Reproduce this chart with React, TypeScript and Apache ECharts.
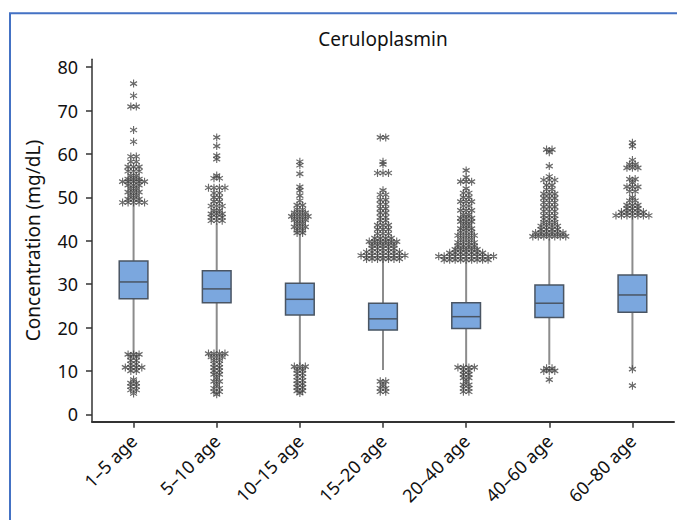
import React, { useEffect, useRef } from "react";
import * as echarts from "echarts";

const categories = ["1–5 age", "5–10 age", "10–15 age", "15–20 age", "20–40 age", "40–60 age", "60–80 age"];
const yTicks = [0, 10, 20, 30, 40, 50, 60, 70, 80];

// [lower whisker, Q1, median, Q3, upper whisker]
const boxStats: number[][] = [
  [14.0, 26.6, 30.5, 35.3, 48.5],
  [14.4, 25.7, 28.9, 33.1, 44.0],
  [11.4, 22.9, 26.5, 30.2, 41.5],
  [10.2, 19.4, 22.0, 25.6, 35.5],
  [11.0, 19.8, 22.5, 25.7, 35.2],
  [11.4, 22.3, 25.6, 29.8, 40.5],
  [10.6, 23.5, 27.5, 32.1, 45.5],
];

// outliers per group: [value, count of cases at that value]
const outliers1_5 = [[76.2,1],[73.4,1],[70.9,2],[65.5,1],[62.8,1],[59.4,2],[58.2,2],[57.0,3],[56.0,3],[55.0,2],[54.2,3],[53.6,5],[52.8,3],[52.0,2],[51.2,3],[50.4,2],[49.6,3],[48.8,5],
  [13.8,3],[13.2,2],[12.4,2],[11.6,2],[10.8,4],[10.0,2],[8.0,1],[7.2,2],[6.4,2],[5.6,2],[4.8,1]];
const outliers5_10 = [[63.8,1],[61.8,1],[59.6,1],[58.8,1],[55.0,1],[54.4,2],[52.2,4],[51.0,2],[50.0,2],[49.0,2],[48.0,3],[47.0,2],[46.2,3],[45.4,3],[44.6,3],
  [14.0,4],[13.2,3],[12.4,2],[11.6,2],[10.8,2],[10.0,2],[9.2,2],[8.4,1],[7.6,2],[6.8,1],[6.0,2],[5.2,2],[4.6,1]];
const outliers10_15 = [[58.2,1],[57.4,1],[55.4,1],[52.4,1],[51.6,1],[50.4,1],[49.2,1],[48.2,2],[47.2,2],[46.4,3],[45.6,4],[44.8,3],[44.0,2],[43.2,3],[42.4,2],[41.8,2],
  [11.0,3],[10.2,2],[9.4,2],[8.6,2],[7.8,2],[7.0,2],[6.2,2],[5.4,2],[4.9,1]];
const outliers15_20 = [[63.8,2],[58.2,1],[57.6,1],[55.6,3],[51.6,1],[50.6,2],[49.4,2],[48.4,2],[47.4,2],[46.4,2],[45.4,2],[44.6,2],[43.6,3],[42.6,3],[41.6,3],[40.6,4],[39.8,6],[39.0,5],[38.2,5],[37.4,7],[36.6,9],[35.8,7],
  [7.6,2],[6.8,1],[6.0,2],[5.2,2]];
const outliers20_40 = [[56.2,1],[54.6,1],[53.6,3],[52.0,1],[51.0,2],[50.0,2],[49.0,3],[48.0,2],[47.0,3],[46.0,2],[45.2,3],[44.4,3],[43.6,2],[42.8,3],[42.0,3],[41.2,4],[40.4,3],[39.6,4],[38.8,4],[38.0,5],[37.2,7],[36.4,11],[35.6,9],
  [10.8,4],[10.0,2],[9.2,2],[8.4,2],[7.6,1],[6.8,2],[6.0,2],[5.2,2]];
const outliers40_60 = [[61.0,2],[60.4,1],[57.2,1],[54.8,1],[54.0,3],[52.8,2],[51.8,2],[50.8,3],[49.8,3],[48.8,3],[47.8,3],[46.8,3],[45.8,3],[45.0,3],[44.2,3],[43.4,4],[42.6,4],[41.8,6],[41.0,7],
  [10.6,2],[10.0,3],[8.0,1]];
const outliers60_80 = [[62.6,1],[61.8,1],[58.6,1],[57.6,2],[56.8,3],[54.2,2],[53.4,1],[52.4,3],[51.4,2],[50.0,1],[49.2,2],[48.2,3],[47.4,3],[46.6,5],[45.8,7],
  [10.4,1],[6.6,1]];

const outlierGroups = [outliers1_5, outliers5_10, outliers10_15, outliers15_20, outliers20_40, outliers40_60, outliers60_80];

const FONT = "Noto Sans";
const STACK_STEP = 0.066; // horizontal spread of tied cases, in category units

export default function App() {
  const ref = useRef<HTMLDivElement>(null);
  useEffect(() => {
    if (!ref.current) return;
    const chart = echarts.init(ref.current, null, { renderer: "svg" });

    const scatterData: number[][] = [];
    outlierGroups.forEach((g, i) => {
      g.forEach(([v, n]) => {
        for (let k = 0; k < n; k++) {
          scatterData.push([i + (k - (n - 1) / 2) * STACK_STEP, v]);
        }
      });
    });

    const boxData = boxStats.map((s, i) => [i, ...s]);

    const option: any = {
      animation: false,
      backgroundColor: "#ffffff",
      grid: { left: 92, right: 3, top: 59.3, bottom: 98.3 },
      graphic: [
        {
          type: "polyline",
          shape: { points: [[10, 520], [10, 13.3], [677, 13.3]] },
          style: { stroke: "#4472c4", lineWidth: 2, fill: "none" },
          silent: true,
        },
        {
          type: "text",
          x: 383,
          y: 39,
          style: {
            text: "Ceruloplasmin",
            fontFamily: FONT,
            fontSize: 19,
            fill: "#111111",
            textAlign: "center",
            textVerticalAlign: "middle",
          },
        },
      ],
      xAxis: [
        {
          type: "category",
          data: categories,
          axisLine: { onZero: false, lineStyle: { color: "#333333", width: 2 } },
          axisTick: { show: true, alignWithLabel: true, length: 6, lineStyle: { color: "#333333", width: 1.5 } },
          axisLabel: { rotate: 45, fontFamily: FONT, fontSize: 18, color: "#111111", margin: 16, interval: 0 },
          splitLine: { show: false },
        },
        { type: "value", min: -0.5, max: 6.5, show: false },
      ],
      yAxis: {
        type: "value",
        min: -1.7,
        max: 81.8,
        name: "Concentration (mg/dL)",
        nameLocation: "middle",
        nameGap: 50,
        nameTextStyle: { fontFamily: FONT, fontSize: 19, color: "#111111" },
        axisLine: { show: true, onZero: false, lineStyle: { color: "#333333", width: 1.5 } },
        axisTick: { show: true, length: 6, customValues: yTicks, lineStyle: { color: "#333333", width: 1.5 } },
        axisLabel: { customValues: yTicks, fontFamily: FONT, fontSize: 18, color: "#111111", margin: 14 },
        splitLine: { show: false },
      },
      series: [
        {
          type: "custom",
          xAxisIndex: 0,
          z: 2,
          data: boxData,
          encode: { x: 0, y: [1, 2, 3, 4, 5] },
          renderItem: (params: any, api: any) => {
            const i = api.value(0);
            const lo = api.coord([i, api.value(1)]);
            const q1 = api.coord([i, api.value(2)]);
            const md = api.coord([i, api.value(3)]);
            const q3 = api.coord([i, api.value(4)]);
            const hi = api.coord([i, api.value(5)]);
            const x = lo[0];
            const bw = api.size([1, 0])[0] * 0.345;
            const whisker = { stroke: "#8c8c8c", lineWidth: 2 };
            return {
              type: "group",
              children: [
                { type: "line", shape: { x1: x, y1: hi[1], x2: x, y2: q3[1] }, style: whisker },
                { type: "line", shape: { x1: x, y1: q1[1], x2: x, y2: lo[1] }, style: whisker },
                {
                  type: "rect",
                  shape: { x: x - bw / 2, y: q3[1], width: bw, height: q1[1] - q3[1] },
                  style: { fill: "#7ba7de", stroke: "#4a5563", lineWidth: 1.5 },
                },
                {
                  type: "line",
                  shape: { x1: x - bw / 2, y1: md[1], x2: x + bw / 2, y2: md[1] },
                  style: { stroke: "#4a5563", lineWidth: 1.5 },
                },
              ],
            };
          },
        },
        {
          type: "scatter",
          xAxisIndex: 1,
          z: 3,
          data: scatterData,
          symbol: "path://M5,0L5,10M0.67,2.5L9.33,7.5M0.67,7.5L9.33,2.5",
          symbolSize: [7, 8],
          itemStyle: { color: "rgba(0,0,0,0)", borderColor: "#444444", borderWidth: 1.2 },
          silent: true,
        },
      ],
    };
    chart.setOption(option);
    return () => chart.dispose();
  }, []);
  return (
    <div
      ref={ref}
      style={{ position: "fixed", left: 0, top: 0, width: 677, height: 520, background: "#fff" }}
    />
  );
}
